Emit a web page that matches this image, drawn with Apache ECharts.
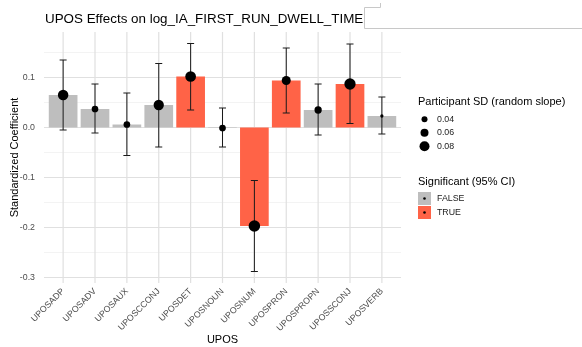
<!DOCTYPE html>
<html>
<head>
<meta charset="utf-8">
<script src="https://cdn.jsdelivr.net/npm/echarts@6/dist/echarts.min.js"></script>
<style>
html,body{margin:0;padding:0;background:#fff;}
#chart{width:582px;height:347px;}
</style>
</head>
<body>
<div id="chart"></div>
<script>
const categories = ['UPOSADP','UPOSADV','UPOSAUX','UPOSCCONJ','UPOSDET','UPOSNOUN','UPOSNUM','UPOSPRON','UPOSPROPN','UPOSSCONJ','UPOSVERB'];
const estimates = [0.065, 0.037, 0.006, 0.045, 0.102, -0.001, -0.197, 0.094, 0.035, 0.087, 0.023];
const ciLow = [-0.005, -0.011, -0.056, -0.039, 0.035, -0.039, -0.288, 0.029, -0.015, 0.008, -0.013];
const ciHigh = [0.135, 0.087, 0.069, 0.128, 0.168, 0.039, -0.106, 0.159, 0.087, 0.167, 0.061];
const participantSD = [0.085, 0.047, 0.047, 0.083, 0.087, 0.047, 0.095, 0.070, 0.053, 0.093, 0.013];
const significant = [false, false, false, false, true, false, true, true, false, true, false];
const yTicks = [-0.3, -0.2, -0.1, 0, 0.1];
const yMinor = [-0.25, -0.15, -0.05, 0.05, 0.15];
const sdBreaks = [0.04, 0.06, 0.08];
const sigLevels = ['FALSE', 'TRUE'];

const FONT = 'Liberation Sans, Arial, Helvetica, sans-serif';
const GREY = '#bebebe', RED = '#ff6347';
const X_MIN = -0.6, X_MAX = categories.length - 1 + 0.6;
const Y_MIN = -0.311, Y_MAX = 0.191;
const sizeOf = sd => 2 + 100 * sd;

const chart = echarts.init(document.getElementById('chart'), null, {renderer: 'canvas'});

const catIdx = categories.map((c, i) => i);
const barData = categories.map((c, i) => [i, estimates[i], significant[i] ? 1 : 0]);
const errData = categories.map((c, i) => [i, ciLow[i], ciHigh[i]]);
const ptData = categories.map((c, i) => [i, estimates[i], participantSD[i]]);

function hLine(color, width) {
  return function (params, api) {
    const v = api.value(0);
    const a = api.coord([X_MIN, v]), b = api.coord([X_MAX, v]);
    return {type: 'line', shape: {x1: a[0], y1: a[1], x2: b[0], y2: b[1]}, style: {stroke: color, lineWidth: width}, silent: true};
  };
}
function vLine(color, width) {
  return function (params, api) {
    const v = api.value(0);
    const a = api.coord([v, Y_MIN]), b = api.coord([v, Y_MAX]);
    return {type: 'line', shape: {x1: a[0], y1: a[1], x2: b[0], y2: b[1]}, style: {stroke: color, lineWidth: width}, silent: true};
  };
}

const g = [];
g.push({type: 'text', x: 45, y: 19, style: {text: 'UPOS Effects on log_IA_FIRST_RUN_DWELL_TIME', font: '13.4px ' + FONT, fill: '#000', verticalAlign: 'middle'}});
g.push({type: 'polyline', shape: {points: [[380.5, 3], [380.5, 7.5], [364.5, 7.5], [364.5, 28.5], [582, 28.5]]}, style: {stroke: '#c8c8c8', lineWidth: 1, fill: null}, silent: true});
g.push({type: 'text', x: 15, y: 157.5, rotation: Math.PI / 2, style: {text: 'Standardized Coefficient', font: '11px ' + FONT, fill: '#000', align: 'center', verticalAlign: 'middle'}});
g.push({type: 'text', x: 222.5, y: 340, style: {text: 'UPOS', font: '11px ' + FONT, fill: '#000', align: 'center', verticalAlign: 'middle'}});
g.push({type: 'text', x: 418, y: 101.5, style: {text: 'Participant SD (random slope)', font: '11px ' + FONT, fill: '#000', verticalAlign: 'middle'}});
sdBreaks.forEach((b, k) => {
  const cy = 119.3 + k * 13.5;
  g.push({type: 'circle', shape: {cx: 424.5, cy: cy, r: sizeOf(b) / 2}, style: {fill: '#000'}});
  g.push({type: 'text', x: 437, y: cy, style: {text: b.toFixed(2), font: '8.8px ' + FONT, fill: '#1a1a1a', verticalAlign: 'middle'}});
});
g.push({type: 'text', x: 418, y: 181.7, style: {text: 'Significant (95% CI)', font: '11px ' + FONT, fill: '#000', verticalAlign: 'middle'}});
sigLevels.forEach((lv, k) => {
  const cy = 198.5 + k * 14;
  g.push({type: 'rect', shape: {x: 418, y: cy - 6.5, width: 13, height: 13}, style: {fill: k ? RED : GREY}});
  g.push({type: 'circle', shape: {cx: 424.5, cy: cy, r: 1.3}, style: {fill: '#000'}});
  g.push({type: 'text', x: 437, y: cy, style: {text: lv, font: '8.8px ' + FONT, fill: '#1a1a1a', verticalAlign: 'middle'}});
});

chart.setOption({
  animation: false,
  backgroundColor: '#fff',
  textStyle: {fontFamily: FONT},
  grid: {left: 44, right: 181, top: 32, bottom: 64, containLabel: false, outerBoundsMode: 'none'},
  xAxis: {
    type: 'value', min: X_MIN, max: X_MAX,
    axisLine: {show: false}, axisTick: {show: false}, splitLine: {show: false},
    axisLabel: {
      customValues: catIdx, rotate: 45, margin: 7, fontSize: 8.8, color: '#4d4d4d', fontFamily: FONT,
      formatter: v => categories[Math.round(v)] || ''
    }
  },
  yAxis: {
    type: 'value', min: Y_MIN, max: Y_MAX,
    axisLine: {show: false}, axisTick: {show: false}, splitLine: {show: false},
    axisLabel: {
      customValues: yTicks, margin: 9, fontSize: 8.8, color: '#4d4d4d', fontFamily: FONT,
      formatter: v => v.toFixed(1)
    }
  },
  graphic: g,
  series: [
    {type: 'custom', z: 1, data: yMinor.map(v => [v]), renderItem: hLine('#f0f0f0', 0.8), encode: {x: -1, y: 0}, silent: true, clip: true},
    {type: 'custom', z: 1, data: yTicks.map(v => [v]), renderItem: hLine('#e0e0e0', 1.2), encode: {x: -1, y: 0}, silent: true, clip: true},
    {type: 'custom', z: 1, data: catIdx.map(v => [v]), renderItem: vLine('#e0e0e0', 1.2), encode: {x: 0, y: -1}, silent: true, clip: true},
    {
      type: 'custom', z: 2, data: barData, encode: {x: 0, y: 1},
      renderItem: function (params, api) {
        const i = api.value(0), v = api.value(1);
        const a = api.coord([i - 0.45, v]), b = api.coord([i + 0.45, 0]);
        return {type: 'rect', shape: {x: a[0], y: Math.min(a[1], b[1]), width: b[0] - a[0], height: Math.abs(b[1] - a[1])},
          style: {fill: api.value(2) ? RED : GREY}};
      }
    },
    {
      type: 'custom', z: 3, data: errData, encode: {x: 0, y: [1, 2]},
      renderItem: function (params, api) {
        const i = api.value(0);
        const lo = api.coord([i, api.value(1)]), hi = api.coord([i, api.value(2)]);
        const hw = api.size([0.11, 0])[0];
        const st = {stroke: '#1a1a1a', lineWidth: 1};
        return {type: 'group', children: [
          {type: 'line', shape: {x1: lo[0], y1: lo[1], x2: hi[0], y2: hi[1]}, style: st},
          {type: 'line', shape: {x1: lo[0] - hw, y1: lo[1], x2: lo[0] + hw, y2: lo[1]}, style: st},
          {type: 'line', shape: {x1: hi[0] - hw, y1: hi[1], x2: hi[0] + hw, y2: hi[1]}, style: st}
        ]};
      }
    },
    {
      type: 'scatter', z: 4, data: ptData, encode: {x: 0, y: 1},
      symbol: 'circle', symbolSize: v => sizeOf(v[2]),
      itemStyle: {color: '#000', opacity: 1}
    }
  ]
});
</script>
</body>
</html>
